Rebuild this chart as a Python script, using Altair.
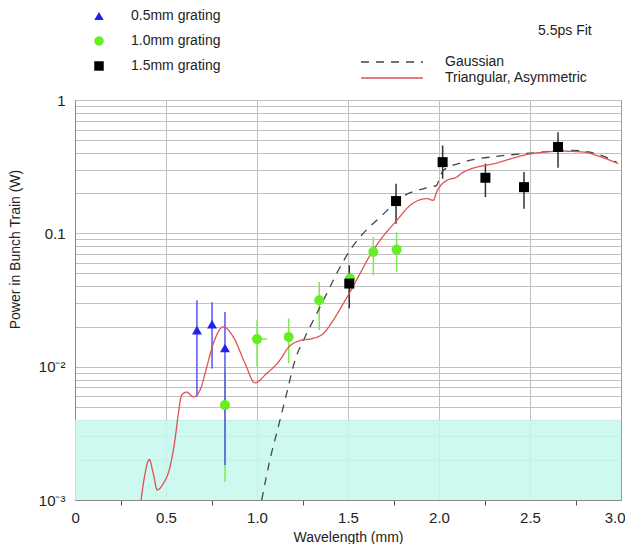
import altair as alt
import pandas as pd

# ---------------- data ----------------
# 0.5 mm grating (blue triangles)
g05_x = [0.670, 0.753, 0.824]
g05_y = [0.0188, 0.0208, 0.0138]
g05_lo = [0.00594, 0.0097, 0.00183]
g05_hi = [0.0315, 0.0304, 0.0257]

# 1.0 mm grating (green circles)
g10_x = [0.824, 1.000, 1.174, 1.342, 1.511, 1.639, 1.767]
g10_y = [0.00515, 0.0161, 0.0167, 0.0315, 0.0458, 0.0724, 0.0755]
g10_lo = [0.00137, 0.00998, 0.0106, 0.0188, 0.0458, 0.0484, 0.0513]
g10_hi = [0.00914, 0.0223, 0.0230, 0.0432, 0.0458, 0.0938, 0.102]
# horizontal error bar on the 1.0 mm point
g10_hx_lo = [0.970]
g10_hx_hi = [1.057]
g10_hx_y = [0.0161]

# 1.5 mm grating (black squares)
g15_x = [1.507, 1.764, 2.020, 2.255, 2.467, 2.654]
g15_y = [0.0420, 0.1746, 0.342, 0.261, 0.222, 0.444]
g15_lo = [0.0274, 0.118, 0.257, 0.187, 0.153, 0.311]
g15_hi = [0.0576, 0.2356, 0.456, 0.333, 0.288, 0.574]

# Gaussian fit (dashed)
gauss_x = [1.026, 1.071, 1.117, 1.163, 1.209, 1.264, 1.319, 1.383, 1.447, 1.511,
           1.566, 1.676, 1.813, 1.950, 1.987, 2.005, 2.024, 2.134, 2.317, 2.500,
           2.720, 2.830, 2.976]
gauss_y = [0.00100, 0.00200, 0.00354, 0.00630, 0.0112, 0.0167, 0.0236, 0.0353, 0.0528, 0.0746,
           0.0938, 0.132, 0.193, 0.222, 0.229, 0.266, 0.296, 0.342, 0.378, 0.399,
           0.419, 0.406, 0.342]

# Triangular, asymmetric fit (red)
tri_x = [0.363, 0.385, 0.408, 0.430, 0.452, 0.485, 0.522, 0.549, 0.568, 0.586,
         0.614, 0.650, 0.687, 0.724, 0.760, 0.815, 0.870, 0.934, 0.989, 1.053,
         1.126, 1.170, 1.236, 1.309, 1.364, 1.419, 1.474, 1.511, 1.566, 1.621,
         1.676, 1.768, 1.841, 1.932, 1.969, 1.987, 2.042, 2.097, 2.134, 2.317,
         2.500, 2.683, 2.800, 2.866, 2.985]
tri_y = [0.00100, 0.00158, 0.00202, 0.00158, 0.00119, 0.00133, 0.00177, 0.00281, 0.00446, 0.00612,
         0.00644, 0.00594, 0.00667, 0.00995, 0.0149, 0.0199, 0.0167, 0.0106, 0.00757, 0.00889,
         0.0112, 0.0138, 0.0157, 0.0163, 0.0177, 0.0223, 0.0297, 0.0363, 0.0499, 0.0684,
         0.0887, 0.125, 0.162, 0.182, 0.177, 0.204, 0.249, 0.264, 0.288, 0.337,
         0.394, 0.413, 0.406, 0.384, 0.333]

# shaded band (noise floor)
band_x = [0.0]
band_x2 = [3.0]
band_y = [0.001]
band_y2 = [0.004]

series_names = ["0.5mm grating", "1.0mm grating", "1.5mm grating"]
series_colors = ["#2222ee", "#66ee22", "#000000"]
series_shapes = ["triangle-up", "circle", "square"]
fit_names = ["Gaussian", "Triangular, Asymmetric"]
fit_colors = ["#444444", "#e05252"]

x_tick_values = [0, 0.25, 0.5, 0.75, 1.0, 1.25, 1.5, 1.75, 2.0, 2.25, 2.5, 2.75, 3.0]
y_tick_values = [0.001, 0.002, 0.003, 0.004, 0.005, 0.006, 0.007, 0.008, 0.009,
                 0.01, 0.02, 0.03, 0.04, 0.05, 0.06, 0.07, 0.08, 0.09,
                 0.1, 0.2, 0.3, 0.4, 0.5, 0.6, 0.7, 0.8, 0.9, 1]

# ---------------- tables ----------------
pts_df = pd.DataFrame({
    "x": g05_x + g10_x + g15_x,
    "y": g05_y + g10_y + g15_y,
    "series": [series_names[0]] * len(g05_x) + [series_names[1]] * len(g10_x) + [series_names[2]] * len(g15_x),
})
e05 = pd.DataFrame({"x": g05_x, "lo": g05_lo, "hi": g05_hi})
e10 = pd.DataFrame({"x": g10_x, "lo": g10_lo, "hi": g10_hi})
e15 = pd.DataFrame({"x": g15_x, "lo": g15_lo, "hi": g15_hi})
h10 = pd.DataFrame({"xlo": g10_hx_lo, "xhi": g10_hx_hi, "y": g10_hx_y})
lines_df = pd.DataFrame({
    "x": gauss_x + tri_x,
    "y": gauss_y + tri_y,
    "fit": [fit_names[0]] * len(gauss_x) + [fit_names[1]] * len(tri_x),
    "order": list(range(len(gauss_x))) + list(range(len(tri_x))),
})
band_df = pd.DataFrame({"x": band_x, "x2": band_x2, "y": band_y, "y2": band_y2})

FONT = "Liberation Sans"

x_scale = alt.Scale(domain=[0, 3], nice=False, zero=False)
y_scale = alt.Scale(type="log", domain=[0.001, 1], nice=False)

x_axis = alt.Axis(
    values=x_tick_values,
    title="Wavelength (mm)",
    labelExpr="(datum.value*2) % 1 == 0 ? (datum.value == 0 ? '0' : format(datum.value, '.1f')) : ''",
    labelFlush=True,
    labelFlushOffset=4,
    labelOverlap=False,
    labelFontSize=15,
    labelColor="#222222",
    labelPadding=5,
    tickSize=5,
    tickColor="#555555",
    tickOpacity={"condition": {"test": "(datum.value*2) % 1 != 0", "value": 1}, "value": 0},
    gridColor="#c0c0c0",
    gridOpacity={"condition": {"test": "(datum.value*2) % 1 == 0 && datum.value > 0 && datum.value < 3", "value": 1}, "value": 0},
    domainColor="#888888",
    titleFontSize=14,
    titleFontWeight="normal",
    titleColor="#222222",
    titleBaseline="alphabetic",
    titleY=41,
)

y_axis = alt.Axis(
    values=y_tick_values,
    title="Power in Bunch Train (W)",
    labelExpr="datum.value == 1 ? '1' : datum.value == 0.1 ? '0.1' : datum.value == 0.01 ? '10⁻²' : datum.value == 0.001 ? '10⁻³' : ''",
    labelOverlap=False,
    labelFontSize=15,
    labelColor="#222222",
    labelPadding=10,
    ticks=False,
    gridColor="#c0c0c0",
    domainColor="#888888",
    titleFontSize=14,
    titleFontWeight="normal",
    titleColor="#222222",
    titleBaseline="alphabetic",
    titleX=-56,
    titleY=149,
)

band = alt.Chart(band_df).mark_rect(color="#c6f8ee", opacity=0.85).encode(
    x=alt.X("x:Q", scale=x_scale, axis=x_axis),
    x2="x2:Q",
    y=alt.Y("y:Q", scale=y_scale, axis=y_axis),
    y2="y2:Q",
)

def ebars(df, color):
    return alt.Chart(df).mark_rule(color=color, strokeWidth=1.5).encode(
        x=alt.X("x:Q", scale=x_scale),
        y=alt.Y("lo:Q", scale=y_scale),
        y2="hi:Q",
    )

bars10 = ebars(e10, "#80e850")
hbar10 = alt.Chart(h10).mark_rule(color="#80e850", strokeWidth=1.5).encode(
    x=alt.X("xlo:Q", scale=x_scale), x2="xhi:Q", y=alt.Y("y:Q", scale=y_scale)
)
bars05 = ebars(e05, "#5555ee")
bars15 = ebars(e15, "#333333")

line_legend = alt.Legend(
    orient="none", legendX=285, legendY=-45, title=None, symbolType="stroke",
    symbolSize=3844, symbolStrokeWidth=1.3, labelOffset=21, clipHeight=14,
    rowPadding=2, labelFontSize=14, labelColor="#222222", padding=0,
)
lines = alt.Chart(lines_df).mark_line(strokeWidth=1.3, interpolate="monotone").encode(
    x=alt.X("x:Q", scale=x_scale),
    y=alt.Y("y:Q", scale=y_scale),
    color=alt.Color("fit:N", scale=alt.Scale(domain=fit_names, range=fit_colors), legend=line_legend),
    strokeDash=alt.StrokeDash("fit:N", scale=alt.Scale(domain=fit_names, range=[[8, 7], [1, 0]]), legend=line_legend),
    order="order:Q",
)

pt_legend = alt.Legend(
    orient="none", legendX=17, legendY=-91, title=None, symbolSize=90,
    labelOffset=25, rowPadding=11, labelFontSize=14, labelColor="#222222", padding=0,
)
points = alt.Chart(pts_df).mark_point(filled=True, opacity=1, size=100, strokeWidth=0).encode(
    x=alt.X("x:Q", scale=x_scale),
    y=alt.Y("y:Q", scale=y_scale),
    color=alt.Color("series:N", scale=alt.Scale(domain=series_names, range=series_colors), legend=pt_legend),
    shape=alt.Shape("series:N", scale=alt.Scale(domain=series_names, range=series_shapes), legend=pt_legend),
)

fit_title = alt.Chart(pd.DataFrame({"t": ["5.5ps Fit"]})).mark_text(
    align="left", baseline="middle", fontSize=14, color="#222222"
).encode(text="t:N", x=alt.value(463), y=alt.value(-69))

chart = alt.layer(band, bars10, hbar10, bars05, bars15, lines, points, fit_title).resolve_scale(
    color="independent", shape="independent", strokeDash="independent"
).properties(
    width=546, height=400,
    padding={"left": 67, "top": 92, "right": 4, "bottom": 44},
    autosize=alt.AutoSizeParams(type="none"),
).configure(font=FONT).configure_view(stroke="#999999", strokeWidth=1)

chart.save("out.html", embed_options={"renderer": "svg", "actions": False})
